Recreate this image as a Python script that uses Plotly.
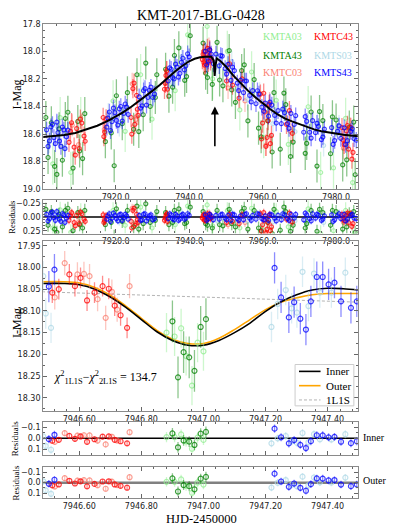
import plotly.graph_objects as go

# ---------------- data ----------------
# top panel, full season (HJD-2450000, I mag, residual)
top_t_a03 = [7902.9, 7904.9, 7907.8, 7910.5, 7919.3, 7922.6, 7926.8, 7929.9, 7936.2, 7939.6, 7944.9, 7946.4,
             7950.4, 7953.8, 7957.0, 7960.3, 7963.7, 7967.0, 7972.4, 7975.8, 7979.3, 7982.6, 7984.5]
top_mag_a03 = [18.816, 18.481, 18.879, 18.482, 18.36, 18.58, 18.17, 18.492, 18.285, 17.88, 17.82, 18.20,
               18.00, 18.425, 18.15, 18.625, 18.355, 18.675, 18.402, 18.879, 18.846, 18.486, 18.952]
top_res_a03 = [0.20, -0.13, 0.28, -0.10, -0.12, 0.15, -0.18, 0.20, 0.14, -0.20, -0.22, 0.16,
               -0.12, 0.20, -0.16, 0.24, -0.10, 0.18, -0.15, 0.30, 0.25, -0.12, 0.34]

top_t_a43 = [7901.6, 7902.5, 7903.4, 7904.6, 7905.5, 7906.3, 7908.4, 7909.7, 7911.0,
             7918.8, 7919.6, 7920.2, 7921.8, 7924.9, 7925.8, 7927.5, 7928.2, 7930.8,
             7933.6, 7935.5, 7937.2, 7938.8, 7940.3,
             7943.8, 7945.0, 7946.3, 7947.6, 7949.2, 7950.9, 7952.6, 7954.3, 7956.0, 7957.7,
             7959.6, 7961.4, 7963.1, 7964.8, 7966.3, 7968.3,
             7971.6, 7973.2, 7974.8, 7976.4,
             7978.5, 7980.0, 7981.8, 7983.6, 7985.2,
             7901.0, 7904.0, 7907.0, 7910.2, 7911.6,
             7917.2, 7923.2, 7926.3, 7929.4, 7931.2,
             7934.5, 7936.0, 7939.3,
             7944.5, 7948.3, 7951.6, 7955.0, 7958.9, 7962.6, 7965.8, 7967.6,
             7972.0, 7975.5, 7979.0, 7982.9, 7984.8]
top_mag_a43 = [18.77, 18.518, 18.835, 18.562, 18.79, 18.487, 18.847, 18.509, 18.778,
               18.592, 18.83, 18.322, 18.525, 18.565, 18.17, 18.46, 18.085, 18.335,
               18.13, 18.26, 17.975, 18.21, 17.887,
               17.94, 18.19, 18.24, 17.935, 18.25, 17.995, 18.37, 18.14, 18.505, 18.205,
               18.62, 18.505, 18.30, 18.71, 18.387, 18.658,
               18.74, 18.44, 18.832, 18.502,
               18.743, 18.498, 18.824, 18.55, 18.895,
               18.48, 18.893, 18.442, 18.723, 18.452,
               18.655, 18.30, 18.582, 18.40, 18.17,
               18.325, 18.03, 18.183,
               18.159, 18.208, 18.28, 18.098, 18.557, 18.73, 18.303, 18.763,
               18.668, 18.437, 18.475, 18.787, 18.513]
top_res_a43 = [0.15, -0.10, 0.22, -0.05, 0.18, -0.12, 0.25, -0.08, 0.20,
               0.10, 0.35, -0.15, 0.08, 0.18, -0.20, 0.12, -0.24, 0.06,
               -0.08, 0.10, -0.15, 0.12, -0.18,
               -0.10, 0.15, 0.20, -0.12, 0.16, -0.14, 0.18, -0.10, 0.22, -0.12,
               0.25, 0.10, -0.14, 0.24, -0.10, 0.15,
               0.20, -0.12, 0.26, -0.08,
               0.15, -0.10, 0.22, -0.06, 0.28,
               -0.14, 0.28, -0.16, 0.14, -0.12,
               0.14, -0.12, 0.22, 0.10, -0.10,
               0.14, -0.12, 0.10,
               0.12, 0.14, 0.12, -0.16, 0.20, 0.30, -0.18, 0.26,
               0.12, -0.14, -0.12, 0.18, -0.10]

top_t_c03 = [7908.2, 7909.9, 7916.9, 7924.5, 7925.5, 7933.9, 7943.9, 7945.4, 7950.6, 7955.2, 7960.9,
             7961.9, 7967.6, 7982.0, 7983.8]
top_mag_c03 = [18.536, 18.676, 18.566, 18.235, 18.495, 18.15, 18.08, 17.98, 18.265, 18.36, 18.68,
               18.375, 18.58, 18.704, 18.56]
top_res_c03 = [-0.06, 0.09, 0.05, -0.16, 0.12, -0.05, 0.04, -0.06, 0.14, 0.10, 0.28,
               -0.04, 0.08, 0.10, -0.05]

top_t_c43 = [7907.3, 7908.0, 7908.7, 7909.4, 7910.1, 7910.8, 7911.4,
             7916.6, 7917.0, 7917.4,
             7924.2, 7924.7, 7925.2, 7925.7, 7926.1,
             7933.3, 7933.7, 7934.1,
             7943.6, 7944.0, 7944.4, 7944.8, 7945.2, 7945.6, 7946.0,
             7950.2, 7951.0, 7951.8, 7953.6, 7954.4,
             7959.4, 7960.0, 7960.6, 7961.2, 7961.8, 7962.4,
             7966.5, 7967.3, 7968.1,
             7981.6, 7982.2, 7982.8, 7983.4, 7984.0, 7984.6,
             7907.7, 7909.0, 7910.4, 7911.7,
             7916.8, 7924.4, 7925.0, 7925.9,
             7933.5, 7933.9,
             7943.8, 7944.2, 7945.0, 7945.8, 7959.7, 7960.3, 7960.9, 7961.5, 7962.1,
             7981.9, 7983.1, 7984.3]
top_mag_c43 = [18.66, 18.518, 18.695, 18.56, 18.705, 18.52, 18.615,
               18.48, 18.585, 18.49,
               18.48, 18.27, 18.53, 18.32, 18.465,
               18.275, 18.175, 18.275,
               18.06, 18.00, 18.09, 18.02, 18.08, 17.99, 18.05,
               18.215, 18.09, 18.245, 18.34, 18.20,
               18.31, 18.52, 18.44, 18.625, 18.385, 18.61,
               18.53, 18.43, 18.595,
               18.553, 18.675, 18.577, 18.709, 18.551, 18.733,
               18.58, 18.753, 18.492, 18.652,
               18.618, 18.60, 18.23, 18.42,
               18.232, 18.14,
               18.021, 18.10, 17.979, 18.069, 18.636, 18.304, 18.69, 18.503, 18.67,
               18.644, 18.538, 18.782]
top_res_c43 = [0.06, -0.08, 0.10, -0.03, 0.12, -0.06, 0.04,
               -0.04, 0.07, -0.02,
               0.08, -0.12, 0.15, -0.05, 0.10,
               0.06, -0.03, 0.08,
               0.02, -0.04, 0.05, -0.02, 0.04, -0.05, 0.01,
               0.10, -0.05, 0.08, 0.12, -0.04,
               -0.06, 0.14, 0.05, 0.22, -0.03, 0.18,
               0.04, -0.07, 0.09,
               -0.05, 0.07, -0.03, 0.10, -0.06, 0.12,
               -0.02, 0.16, -0.09, 0.08,
               0.10, 0.20, -0.16, 0.05,
               0.02, -0.06,
               -0.02, 0.06, -0.06, 0.03, 0.26, -0.08, 0.30, 0.10, 0.25,
               0.04, -0.07, 0.17]

top_t_s03 = [7901.9, 7904.0, 7906.1, 7918.0, 7921.0, 7927.6, 7930.3, 7935.3, 7938.0, 7944.7, 7947.5,
             7951.6, 7955.9, 7959.2, 7962.8, 7965.6, 7968.8, 7972.2, 7974.9, 7976.6, 7980.8, 7983.2]
top_mag_s03 = [18.658, 18.543, 18.696, 18.455, 18.538, 18.278, 18.325, 18.225, 18.04, 17.99, 18.112,
               18.075, 18.35, 18.305, 18.525, 18.43, 18.583, 18.63, 18.523, 18.683, 18.541, 18.689]
top_res_s03 = [0.04, -0.07, 0.09, -0.05, 0.08, -0.06, 0.04, 0.06, -0.07, -0.05, 0.06,
               -0.08, 0.07, -0.06, 0.09, -0.05, 0.07, 0.08, -0.05, 0.10, -0.06, 0.08]

top_t_s43 = [7901.2, 7902.0, 7902.8, 7903.6, 7904.3, 7905.1, 7905.9, 7906.6,
             7917.6, 7918.3, 7919.0, 7919.8, 7920.6, 7921.4, 7922.2, 7923.0,
             7926.4, 7927.2, 7928.0, 7928.8, 7929.6, 7930.6,
             7934.3, 7935.1, 7935.9, 7936.7, 7937.5, 7938.3, 7939.1, 7940.0,
             7944.4, 7945.2, 7946.0, 7946.6, 7947.3, 7948.2, 7949.0, 7949.8, 7950.6, 7951.4,
             7952.3, 7953.1, 7954.0, 7954.8, 7955.6, 7956.5, 7957.3, 7958.2, 7959.0, 7959.8,
             7960.7, 7961.6, 7962.5, 7963.3, 7964.2, 7965.1, 7966.0, 7966.8, 7967.7, 7968.6,
             7971.2, 7972.0, 7972.8, 7973.6, 7974.4, 7975.2, 7976.0, 7976.8,
             7978.8, 7979.6, 7980.4, 7981.3, 7982.2, 7983.1, 7984.0, 7984.9,
             7901.6, 7902.4, 7903.2, 7904.0, 7904.7, 7905.5, 7906.2, 7907.0,
             7917.9, 7918.6, 7919.4, 7920.2, 7921.0, 7921.8, 7922.6, 7923.4,
             7926.8, 7927.6, 7928.4, 7929.2, 7930.1,
             7934.7, 7935.5, 7936.3, 7937.1, 7937.9, 7938.7, 7939.6,
             7944.8, 7945.6, 7948.6, 7950.2, 7951.8, 7953.5, 7955.2, 7956.9, 7958.6, 7960.3,
             7962.0, 7963.7, 7965.5, 7967.2, 7969.0,
             7971.6, 7973.2, 7974.8, 7976.4,
             7979.2, 7980.8, 7982.6, 7984.4, 7985.5]
top_mag_s43 = [18.57, 18.65, 18.53, 18.67, 18.59, 18.69, 18.57, 18.62,
               18.55, 18.44, 18.51, 18.445, 18.535, 18.40, 18.45, 18.405,
               18.33, 18.395, 18.27, 18.335, 18.26, 18.31,
               18.215, 18.13, 18.20, 18.115, 18.16, 18.05, 18.105, 18.04,
               18.00, 18.07, 18.02, 18.09, 18.02, 18.105, 18.035, 18.125, 18.095, 18.21,
               18.14, 18.23, 18.21, 18.30, 18.215, 18.32, 18.285, 18.38, 18.31, 18.405,
               18.375, 18.47, 18.39, 18.465, 18.43, 18.525, 18.445, 18.525, 18.45, 18.53,
               18.587, 18.508, 18.587, 18.503, 18.59, 18.545, 18.64, 18.564,
               18.554, 18.647, 18.58, 18.632, 18.555, 18.648, 18.581, 18.634,
               18.69, 18.548, 18.626, 18.513, 18.651, 18.549, 18.706, 18.572,
               18.485, 18.575, 18.412, 18.501, 18.418, 18.506, 18.382, 18.458,
               18.412, 18.286, 18.39, 18.283, 18.335,
               18.12, 18.191, 18.093, 18.187, 18.08, 18.135, 18.018,
               18.099, 17.989, 18.031, 18.165, 18.115, 18.285, 18.215, 18.367, 18.286, 18.434,
               18.368, 18.52, 18.419, 18.559, 18.467,
               18.474, 18.629, 18.522, 18.622,
               18.675, 18.541, 18.676, 18.562, 18.645]
top_res_s43 = [-0.05, 0.03, -0.09, 0.06, -0.02, 0.08, -0.04, 0.02,
               0.04, -0.06, 0.02, -0.03, 0.07, -0.05, 0.01, -0.02,
               -0.03, 0.05, -0.06, 0.02, -0.04, 0.03,
               0.03, -0.04, 0.05, -0.02, 0.04, -0.05, 0.02, -0.03,
               -0.04, 0.03, -0.02, 0.05, -0.03, 0.04, -0.05, 0.02, -0.03, 0.06,
               -0.04, 0.03, -0.02, 0.05, -0.06, 0.02, -0.03, 0.04, -0.05, 0.03,
               -0.02, 0.06, -0.04, 0.02, -0.03, 0.05, -0.04, 0.03, -0.05, 0.02,
               0.05, -0.04, 0.03, -0.06, 0.02, -0.03, 0.06, -0.02,
               -0.04, 0.05, -0.02, 0.03, -0.05, 0.04, -0.03, 0.02,
               0.07, -0.07, 0.01, -0.10, 0.04, -0.06, 0.10, -0.03,
               -0.02, 0.08, -0.07, 0.03, -0.04, 0.06, -0.05, 0.04,
               0.06, -0.05, 0.07, -0.02, 0.05,
               -0.06, 0.03, -0.05, 0.06, -0.03, 0.04, -0.06,
               0.06, -0.05, -0.04, 0.05, -0.05, 0.06, -0.05, 0.06, -0.06, 0.05,
               -0.05, 0.07, -0.06, 0.06, -0.05,
               -0.07, 0.07, -0.05, 0.04,
               0.08, -0.06, 0.07, -0.05, 0.03]

# typical error bars per data set (mag)
top_err = {"KMTA03": 0.15, "KMTA43": 0.12, "KMTC03": 0.08, "KMTC43": 0.07, "KMTS03": 0.08, "KMTS43": 0.06}

# best-fit 2L1S model over the season
model_t = [7899.8, 7903, 7906, 7909, 7912, 7915, 7918, 7920, 7922, 7924, 7926, 7928, 7930, 7932,
           7934, 7936, 7938, 7940, 7941.5, 7943, 7944.5, 7946, 7946.7, 7946.95, 7947.2, 7947.5,
           7948.5, 7950, 7952, 7954, 7956, 7958, 7960, 7962, 7964, 7966, 7968, 7970, 7972, 7974,
           7976, 7978, 7980, 7982, 7984, 7986.3]
model_mag = [18.622, 18.616, 18.607, 18.592, 18.568, 18.540, 18.503, 18.474, 18.443, 18.407, 18.368,
             18.328, 18.287, 18.244, 18.196, 18.150, 18.108, 18.072, 18.054, 18.043, 18.039, 18.039,
             18.065, 18.178, 18.100, 18.052, 18.070, 18.110, 18.175, 18.232, 18.285, 18.333, 18.378,
             18.418, 18.455, 18.486, 18.508, 18.527, 18.548, 18.566, 18.580, 18.590, 18.598, 18.605,
             18.611, 18.616]

# zoom on the anomaly (HJD-2450000, I mag, residual to Inner, residual to Outer)
z_t_a03 = [7946.881, 7946.907, 7946.928, 7946.944, 7946.963, 7946.981, 7947.000]
z_mag_a03 = [18.150, 18.159, 18.140, 18.204, 18.272, 18.173, 18.193]
z_ri_a03 = [-0.011, -0.011, -0.035, 0.027, 0.093, -0.006, 0.014]
z_ro_a03 = [-0.008, -0.007, -0.031, 0.031, 0.097, -0.002, 0.018]

z_t_a43 = [7946.900, 7946.918, 7946.936, 7946.954, 7946.971, 7946.991, 7947.008]
z_mag_a43 = [18.124, 18.253, 18.195, 18.207, 18.238, 18.137, 18.119]
z_ri_a43 = [-0.044, 0.080, 0.019, 0.029, 0.059, -0.042, -0.058]
z_ro_a43 = [-0.041, 0.084, 0.023, 0.033, 0.063, -0.038, -0.055]

z_t_c03 = [7946.521, 7946.553, 7946.594, 7946.615, 7946.633, 7946.659, 7946.685, 7946.705, 7946.722, 7946.762]
z_mag_c03 = [18.069, 17.990, 18.016, 18.015, 18.020, 18.073, 18.116, 18.056, 18.097, 18.043]
z_ri_c03 = [0.032, -0.047, -0.024, -0.028, -0.026, 0.020, 0.054, -0.014, 0.019, -0.055]
z_ro_c03 = [0.036, -0.043, -0.020, -0.024, -0.022, 0.024, 0.058, -0.010, 0.023, -0.052]

z_t_c43 = [7946.513, 7946.534, 7946.568, 7946.586, 7946.604, 7946.625, 7946.649, 7946.675, 7946.695,
           7946.714, 7946.733, 7946.754]
z_mag_c43 = [18.058, 18.050, 18.016, 18.043, 18.024, 18.076, 18.058, 18.043, 18.049, 18.088, 18.110, 18.139]
z_ri_c43 = [0.021, 0.013, -0.022, 0.004, -0.017, 0.031, 0.008, -0.015, -0.017, 0.013, 0.026, 0.045]
z_ro_c43 = [0.025, 0.017, -0.018, 0.008, -0.013, 0.035, 0.012, -0.011, -0.013, 0.017, 0.030, 0.048]

z_t_s03 = [7946.484, 7946.492, 7946.509, 7947.219, 7947.239, 7947.265, 7947.284, 7947.301, 7947.319,
           7947.338, 7947.356, 7947.375, 7947.412, 7947.457]
z_mag_s03 = [18.020, 18.106, 18.139, 18.137, 18.084, 18.052, 18.094, 18.104, 18.010, 18.089, 18.014,
             18.058, 18.058, 18.012]
z_ri_s03 = [-0.017, 0.069, 0.102, 0.045, 0.000, -0.021, 0.027, 0.041, -0.048, 0.035, -0.037, 0.008, 0.010, -0.037]
z_ro_s03 = [-0.013, 0.073, 0.106, 0.047, 0.001, -0.025, 0.021, 0.034, -0.057, 0.025, -0.049, -0.003, -0.002, -0.048]

z_t_s43 = [7946.502, 7946.520, 7947.229, 7947.250, 7947.275, 7947.292, 7947.312, 7947.330, 7947.346,
           7947.365, 7947.384, 7947.403, 7947.422, 7947.443, 7947.475, 7947.494]
z_mag_s43 = [18.044, 18.005, 18.001, 18.069, 18.115, 18.080, 18.118, 18.143, 18.078, 18.022, 18.022,
             18.039, 18.035, 18.078, 18.093, 18.078]
z_ri_s43 = [0.007, -0.032, -0.087, -0.010, 0.045, 0.015, 0.058, 0.087, 0.025, -0.028, -0.027, -0.009,
            -0.013, 0.030, 0.043, 0.026]
z_ro_s43 = [0.011, -0.028, -0.086, -0.011, 0.040, 0.008, 0.049, 0.077, 0.014, -0.040, -0.039, -0.021,
            -0.025, 0.018, 0.033, 0.018]

z_err = {"KMTA03": 0.045, "KMTA43": 0.048, "KMTC03": 0.028, "KMTC43": 0.024, "KMTS03": 0.035, "KMTS43": 0.036}

# models on the zoom
zm_t = [7946.48, 7946.55, 7946.60, 7946.65, 7946.70, 7946.75, 7946.80, 7946.85, 7946.90, 7946.95, 7947.00,
        7947.05, 7947.10, 7947.15, 7947.20, 7947.25, 7947.30, 7947.35, 7947.40, 7947.45, 7947.50]
inner_mag = [18.037, 18.037, 18.040, 18.050, 18.068, 18.092, 18.120, 18.148, 18.168, 18.179, 18.179,
             18.168, 18.150, 18.128, 18.101, 18.079, 18.063, 18.052, 18.048, 18.049, 18.052]
outer_mag = [18.033, 18.033, 18.036, 18.046, 18.064, 18.089, 18.117, 18.145, 18.165, 18.175, 18.175,
             18.163, 18.143, 18.120, 18.097, 18.080, 18.070, 18.063, 18.060, 18.060, 18.060]
pspl_t = [7946.48, 7947.00, 7947.50]
pspl_mag = [18.056, 18.069, 18.080]

chi2_diff = 134.7

# ---------------- figure ----------------
# the page puts the plot 8 px in from the window corner: draw the 395x526 layout
# slightly shrunk into the 387x518 area that is left
W, H = 395, 526
FW, FH = 387, 518
colors = {"KMTA03": (144, 238, 144), "KMTA43": (0, 128, 0), "KMTC03": (250, 128, 114),
          "KMTC43": (255, 0, 0), "KMTS03": (173, 216, 230), "KMTS43": (0, 0, 255)}


def rgba(name, a):
    r, g, b = colors[name]
    return f"rgba({r},{g},{b},{a})"


def fx(x):
    return x / W


def fy(y):
    return 1 - y / H


fig = go.Figure()

top_sets = [("KMTA03", top_t_a03, top_mag_a03, top_res_a03),
            ("KMTC03", top_t_c03, top_mag_c03, top_res_c03),
            ("KMTS03", top_t_s03, top_mag_s03, top_res_s03),
            ("KMTA43", top_t_a43, top_mag_a43, top_res_a43),
            ("KMTC43", top_t_c43, top_mag_c43, top_res_c43),
            ("KMTS43", top_t_s43, top_mag_s43, top_res_s43)]
zoom_sets = [("KMTA03", z_t_a03, z_mag_a03, z_ri_a03, z_ro_a03),
             ("KMTC03", z_t_c03, z_mag_c03, z_ri_c03, z_ro_c03),
             ("KMTS03", z_t_s03, z_mag_s03, z_ri_s03, z_ro_s03),
             ("KMTA43", z_t_a43, z_mag_a43, z_ri_a43, z_ro_a43),
             ("KMTC43", z_t_c43, z_mag_c43, z_ri_c43, z_ro_c43),
             ("KMTS43", z_t_s43, z_mag_s43, z_ri_s43, z_ro_s43)]


def add_pts(name, t, y, err, xa, ya, size):
    fig.add_trace(go.Scatter(
        x=t, y=y, mode="markers", xaxis=xa, yaxis=ya, showlegend=False, hoverinfo="skip",
        marker=dict(symbol="circle-open", size=size, color=rgba(name, 0.75), line=dict(width=1.2)),
        error_y=dict(type="constant", value=err, color=rgba(name, 0.45), thickness=1.3, width=0)))


def add_line(t, y, xa, ya, **line):
    fig.add_trace(go.Scatter(x=t, y=y, mode="lines", xaxis=xa, yaxis=ya, line=line,
                             showlegend=False, hoverinfo="skip"))


# zero lines in the residual panels (drawn first so points sit on top)
add_line([7800, 8100], [0, 0], "x2", "y2", color="black", width=1.5)
add_line([7946.0, 7948.0], [0, 0], "x4", "y4", color="black", width=1.5)
add_line([7946.0, 7948.0], [0, 0], "x5", "y5", color="#808080", width=2.5)

for name, t, mag, res in top_sets:
    add_pts(name, t, mag, top_err[name], "x", "y", 4)
    add_pts(name, t, res, top_err[name], "x2", "y2", 4)

add_line(model_t, model_mag, "x", "y", color="black", width=2)

# zoom panel models
add_line(pspl_t, pspl_mag, "x3", "y3", color="#aaaaaa", width=0.9, dash="3px,2px")
add_line(zm_t, outer_mag, "x3", "y3", color="#FFA500", width=1.6, shape="spline")
add_line(zm_t, inner_mag, "x3", "y3", color="black", width=1.6, shape="spline")

for name, t, mag, ri, ro in zoom_sets:
    add_pts(name, t, mag, z_err[name], "x3", "y3", 5)
    add_pts(name, t, ri, z_err[name], "x4", "y4", 5)
    add_pts(name, t, ro, z_err[name], "x5", "y5", 5)

tickfont = dict(family="DejaVu Sans", size=8, color="#222")


def axis(**kw):
    d = dict(showline=True, linecolor="#8a8a8a", linewidth=1.3, mirror="allticks", ticks="inside",
             ticklen=4, tickwidth=1, tickcolor="#666", showgrid=False, zeroline=False, automargin=False,
             tickfont=tickfont, domain=[fx(36), fx(357)])
    d.update(kw)
    return d


def minor(dt):
    return dict(dtick=dt, ticks="inside", ticklen=2, tickcolor="#666", showgrid=False)


xr_top = [7900.3, 7985.9]
xr_zoom = [7946.484, 7947.497]

fig.update_layout(
    width=FW, height=FH, margin=dict(l=0, r=0, t=0, b=0, autoexpand=False),
    paper_bgcolor="white", plot_bgcolor="white", showlegend=False,
    xaxis=axis(range=xr_top, tick0=7920, dtick=20, tickformat=".1f", minor=minor(4), anchor="y"),
    yaxis=axis(range=[19.0, 17.8], dtick=0.2, tick0=17.8, tickformat=".1f", minor=minor(0.05),
               domain=[fy(184), fy(16)], anchor="x"),
    xaxis2=axis(range=xr_top, tick0=7920, dtick=20, tickformat=".1f", minor=minor(4), anchor="y2"),
    yaxis2=axis(range=[0.30, -0.31], tickvals=[-0.25, 0, 0.25], tickformat=".2f", minor=minor(0.05),
                domain=[fy(229), fy(195)], anchor="x2"),
    xaxis3=axis(range=xr_zoom, tick0=7946.6, dtick=0.2, tickformat=".2f", minor=minor(0.04), anchor="y3"),
    yaxis3=axis(range=[18.33, 17.94], tick0=17.95, dtick=0.05, tickformat=".2f", minor=minor(0.025),
                domain=[fy(409), fy(237)], anchor="x3"),
    xaxis4=axis(range=xr_zoom, tick0=7946.6, dtick=0.2, showticklabels=False, minor=minor(0.04), anchor="y4"),
    yaxis4=axis(range=[0.15, -0.15], tickvals=[-0.1, 0, 0.1], tickformat=".1f", minor=minor(0.05),
                domain=[fy(454), fy(420)], anchor="x4"),
    xaxis5=axis(range=xr_zoom, tick0=7946.6, dtick=0.2, tickformat=".2f", minor=minor(0.04), anchor="y5"),
    yaxis5=axis(range=[0.15, -0.15], tickvals=[-0.1, 0, 0.1], tickformat=".1f", minor=minor(0.05),
                domain=[fy(498), fy(466)], anchor="x5"),
)

serif = "Liberation Serif"
ann = [
    dict(text="KMT-2017-BLG-0428", x=197, y=8, font=dict(family=serif, size=14)),
    dict(text="I-Mag", x=9, y=88, textangle=-90, font=dict(family=serif, size=12)),
    dict(text="Residuals", x=4, y=212, textangle=-90, font=dict(family=serif, size=8.5)),
    dict(text="I-Mag", x=9, y=320, textangle=-90, font=dict(family=serif, size=12)),
    dict(text="Residuals", x=8, y=437, textangle=-90, font=dict(family=serif, size=9)),
    dict(text="Residuals", x=8, y=482, textangle=-90, font=dict(family=serif, size=9)),
    dict(text="HJD-2450000", x=197, y=519, font=dict(family=serif, size=12.5)),
    dict(text="Inner", x=360, y=436, xanchor="left", font=dict(family=serif, size=10)),
    dict(text="Outer", x=360, y=480, xanchor="left", font=dict(family=serif, size=10)),
    dict(text=f"<i>χ</i><sup>2</sup><sub>1L1S</sub>−<i>χ</i><sup>2</sup><sub>2L1S</sub> = {chi2_diff}",
         x=45, y=375, xanchor="left", font=dict(family=serif, size=12)),
]
for name, cx, cy in [("KMTA03", 280, 29), ("KMTC43", 332, 29), ("KMTA43", 280, 48),
                     ("KMTS03", 332, 48), ("KMTC03", 280, 66), ("KMTS43", 332, 66)]:
    ann.append(dict(text=name, x=cx, y=cy, font=dict(family=serif, size=10, color=rgba(name, 1))))

# hand-drawn legend for the zoom panel
legend_items = [("Inner", "black", 1.6, "solid"), ("Outer", "#FFA500", 1.6, "solid"),
                ("1L1S", "#aaaaaa", 0.9, "3px,2px")]
fig.add_shape(type="rect", xref="paper", yref="paper", x0=fx(293), x1=fx(353), y0=fy(404), y1=fy(362),
              line=dict(color="#cccccc", width=1), fillcolor="white", layer="above")
for i, (label, col, w, dash) in enumerate(legend_items):
    yy = 369 + 14.5 * i
    fig.add_shape(type="line", xref="paper", yref="paper", x0=fx(297), x1=fx(319), y0=fy(yy), y1=fy(yy),
                  line=dict(color=col, width=w, dash=dash), layer="above")
    ann.append(dict(text=label, x=323, y=yy, xanchor="left", font=dict(family=serif, size=11)))

for a in ann:
    a["x"] = fx(a["x"])
    a["y"] = fy(a["y"])
    a.setdefault("xanchor", "center")
    a.setdefault("yanchor", "middle")
    a["font"].setdefault("color", "black")
    fig.add_annotation(xref="paper", yref="paper", showarrow=False, **a)

# arrow marking the anomaly
fig.add_annotation(x=7947.0, y=18.40, ax=7947.0, ay=18.70, xref="x", yref="y", axref="x", ayref="y",
                   showarrow=True, arrowhead=2, arrowsize=1, arrowwidth=1.6, arrowcolor="black", text="")

fig.write_html("out.html")
